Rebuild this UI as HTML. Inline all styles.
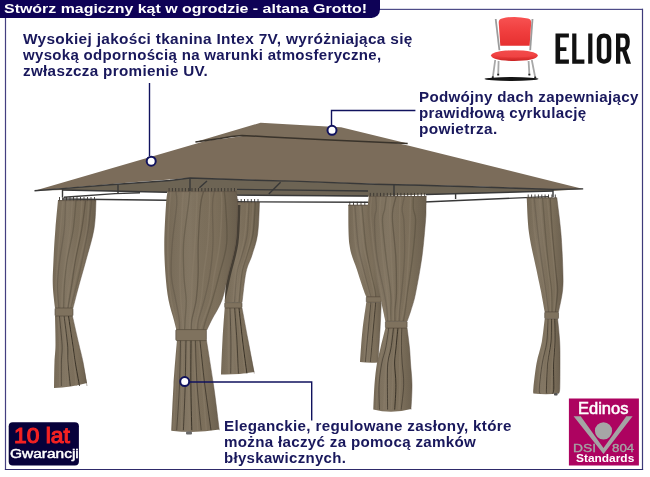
<!DOCTYPE html>
<html><head><meta charset="utf-8">
<style>
html,body{margin:0;padding:0;background:#fff}
body{width:650px;height:477px;position:relative;overflow:hidden;font-family:"Liberation Sans",sans-serif}
.t{position:absolute;font-weight:bold;color:#19185c;font-size:14.5px;line-height:16px;white-space:nowrap}
.t span{display:inline-block;transform-origin:0 0;letter-spacing:0.3px;will-change:transform}
#title{position:absolute;left:0;top:0;height:17.5px;width:379.5px;background:#0e0256;border-bottom-right-radius:8.5px;color:#fff;font-weight:bold;font-size:13.6px;line-height:17px;white-space:nowrap}
#title span{display:inline-block;transform-origin:0 0;margin-left:4.2px;will-change:transform}
svg{position:absolute;left:0;top:0}
</style></head><body>
<svg width="650" height="477" viewBox="0 0 650 477">
<defs><linearGradient id="cg" x1="0" y1="0" x2="0" y2="1"><stop offset="0" stop-color="#7b6e5a"/><stop offset="1" stop-color="#7d705c"/></linearGradient><linearGradient id="cshade" x1="0" y1="0" x2="1" y2="0"><stop offset="0" stop-color="#000" stop-opacity="0.06"/><stop offset="0.35" stop-color="#fff" stop-opacity="0.05"/><stop offset="0.7" stop-color="#000" stop-opacity="0"/><stop offset="1" stop-color="#000" stop-opacity="0.14"/></linearGradient></defs>
<!-- frame -->
<rect x="379" y="8.8" width="264" height="1.2" fill="#4e4c88"/>
<rect x="641.9" y="8.8" width="1.2" height="461.2" fill="#3e3a7a"/>
<rect x="4.9" y="16" width="1.2" height="454" fill="#443f80"/>
<rect x="4.9" y="469" width="638.2" height="1" fill="#2e2a6a"/>

<!-- GAZEBO -->
<g id="gazebo">
<!-- underside band -->
<path d="M34.5 190.8 L62 188.6 L110 184.7 L170 180.5 L190 178 L255 180.2 L300 181.4 L375 184.2 L420 185.3 L480 187 L540 189 L583.2 188.9 L553 191 L490 193 L426 194.5 L368 196.4 L300 195.8 L237 195.6 L190 191 L167 192.3 L110 191 L62 190 Z" fill="#6d6454"/>
<!-- roof face lower tier -->
<path d="M34.5 190.8 L195 144 L207 140.6 L221 138.9 L243 136 L260 131 L340 131 L408 145.5 L583.2 188.9 L553 189.5 L480 186.5 L394 184.5 L270 180.5 L190 178 L130 182.6 Z" fill="#7b6c5a"/>
<!-- upper tier -->
<path d="M195.4 142 L260.6 122.7 L300 124.9 L341 127.3 L407.7 143.5 L330 140 L270 137 L242 135.4 L220 138.5 Z" fill="#7c6e5c"/>
<path d="M195.4 142 L220 138.5 Q232 136 242 135.4 L270 137 L330 140 L407.7 143.5" fill="none" stroke="#39332b" stroke-width="1.5"/>

<!-- bars -->
<g stroke="#383838" stroke-width="1.4" fill="none">
<path d="M34.5 190.8 L62 188.6 L110 184.7 L170 180.5 L190 178 L255 180.2 L300 181.4 L375 184.2 L420 185.3 L480 187 L540 189 L553 189.4 L583.2 188.9"/>
<path d="M62 190 L110 191 L167 192.3"/>
<path d="M64 197.3 L115 193.6 L140 192.8"/>
<path d="M62 199 L167 200.2"/>
<path d="M237 189.4 L368 191"/>
<path d="M237 195.1 L368 196"/>
<path d="M237 201.8 L368 202.3"/>
<path d="M426 194.5 L553 191"/>
<path d="M424 202 L549 196.6"/>
<path d="M62.5 188.6 V197.5 M118 184.7 V194 M190 178 V191 M394 184.6 V196 M553 189.5 V197 M455.6 194 V199"/>
<path d="M199.4 187.8 L207 181 M268.8 194 L280.6 182.2"/>
</g>

<!-- curtains -->
<g id="curtains">
<path d="M58.0 200.0 C57.6 204.8 56.1 219.0 55.4 229.0 C54.6 239.0 53.9 250.7 53.5 260.0 C53.1 269.3 52.5 277.0 52.8 285.0 C53.0 293.0 54.6 304.2 55.0 308.0 L73.0 308.0 C74.0 304.2 76.8 293.0 79.0 285.0 C81.2 277.0 83.5 269.3 86.0 260.0 C88.5 250.7 92.3 239.0 94.0 229.0 C95.7 219.0 95.7 204.8 96.0 200.0Z" fill="url(#cg)"/>
<path d="M58.0 200.0 C57.6 204.8 56.1 219.0 55.4 229.0 C54.6 239.0 53.9 250.7 53.5 260.0 C53.1 269.3 52.5 277.0 52.8 285.0 C53.0 293.0 54.6 304.2 55.0 308.0 L73.0 308.0 C74.0 304.2 76.8 293.0 79.0 285.0 C81.2 277.0 83.5 269.3 86.0 260.0 C88.5 250.7 92.3 239.0 94.0 229.0 C95.7 219.0 95.7 204.8 96.0 200.0Z" fill="url(#cshade)"/>
<path d="M65.6 200.0 C65.4 204.8 65.2 219.0 64.3 229.0 C63.3 239.0 60.9 250.7 59.8 260.0 C58.6 269.3 57.5 277.0 57.3 285.0 C57.2 293.0 58.6 304.2 58.9 308.0" fill="none" stroke="#2e281f" stroke-opacity="0.18" stroke-width="1.3"/>
<path d="M62.9 200.0 C62.5 204.8 61.3 219.0 60.4 229.0 C59.5 239.0 58.4 250.7 57.7 260.0 C57.0 269.3 56.3 277.0 56.2 285.0 C56.1 293.0 57.2 304.2 57.3 308.0" fill="none" stroke="#8c7f6a" stroke-opacity="0.45" stroke-width="1.6"/>
<path d="M76.1 200.0 C75.6 204.8 74.7 219.0 73.3 229.0 C71.8 239.0 68.7 250.7 67.2 260.0 C65.7 269.3 65.0 277.0 64.4 285.0 C63.9 293.0 63.8 304.2 63.6 308.0" fill="none" stroke="#2e281f" stroke-opacity="0.24" stroke-width="1.3"/>
<path d="M72.4 200.0 C72.0 204.8 71.2 219.0 70.1 229.0 C69.0 239.0 67.1 250.7 65.8 260.0 C64.6 269.3 63.4 277.0 62.8 285.0 C62.1 293.0 62.0 304.2 61.8 308.0" fill="none" stroke="#8c7f6a" stroke-opacity="0.45" stroke-width="1.6"/>
<path d="M85.6 200.0 C85.0 204.8 83.5 219.0 81.8 229.0 C80.1 239.0 77.2 250.7 75.5 260.0 C73.8 269.3 73.0 277.0 71.7 285.0 C70.4 293.0 68.5 304.2 67.9 308.0" fill="none" stroke="#2e281f" stroke-opacity="0.30" stroke-width="1.3"/>
<path d="M81.9 200.0 C81.6 204.8 81.0 219.0 79.7 229.0 C78.4 239.0 75.7 250.7 74.0 260.0 C72.2 269.3 70.6 277.0 69.3 285.0 C68.0 293.0 66.8 304.2 66.3 308.0" fill="none" stroke="#8c7f6a" stroke-opacity="0.45" stroke-width="1.6"/>
<path d="M91.6 200.0 C91.0 204.8 89.8 219.0 88.2 229.0 C86.6 239.0 84.1 250.7 82.2 260.0 C80.3 269.3 78.5 277.0 76.6 285.0 C74.7 293.0 71.6 304.2 70.6 308.0" fill="none" stroke="#2e281f" stroke-opacity="0.18" stroke-width="1.3"/>
<path d="M88.8 200.0 C88.4 204.8 88.2 219.0 86.7 229.0 C85.2 239.0 81.9 250.7 79.8 260.0 C77.7 269.3 75.7 277.0 74.0 285.0 C72.3 293.0 70.3 304.2 69.6 308.0" fill="none" stroke="#8c7f6a" stroke-opacity="0.45" stroke-width="1.6"/>
<path d="M59.5 197.0v3.5 M63.0 197.0v3.5 M66.5 197.0v3.5 M70.0 197.0v3.5 M73.5 197.0v3.5 M77.0 197.0v3.5 M80.5 197.0v3.5 M84.0 197.0v3.5 M87.5 197.0v3.5 M91.0 197.0v3.5 M94.5 197.0v3.5" stroke="#3a3631" stroke-width="0.9" fill="none"/>
<path d="M58.0 200.6H96.0" stroke="#5d5244" stroke-width="1" stroke-opacity="0.6"/>
<path d="M96.0 200.0 C95.7 204.8 95.7 219.0 94.0 229.0 C92.3 239.0 88.5 250.7 86.0 260.0 C83.5 269.3 81.2 277.0 79.0 285.0 C76.8 293.0 74.0 304.2 73.0 308.0" fill="none" stroke="#5a4f41" stroke-opacity="0.6" stroke-width="0.8"/>
<path d="M55.0 316.0 C55.1 320.8 55.6 337.3 55.5 345.0 C55.4 352.7 54.8 354.8 54.5 362.0 C54.2 369.2 54.1 383.7 54.0 388.0 Q70.5 387.5 87.0 383.0 C86.3 379.5 84.3 368.3 83.0 362.0 C81.7 355.7 80.8 352.7 79.0 345.0 C77.2 337.3 73.5 320.8 72.4 316.0Z" fill="url(#cg)"/>
<path d="M55.0 316.0 C55.1 320.8 55.6 337.3 55.5 345.0 C55.4 352.7 54.8 354.8 54.5 362.0 C54.2 369.2 54.1 383.7 54.0 388.0 Q70.5 387.5 87.0 383.0 C86.3 379.5 84.3 368.3 83.0 362.0 C81.7 355.7 80.8 352.7 79.0 345.0 C77.2 337.3 73.5 320.8 72.4 316.0Z" fill="url(#cshade)"/>
<path d="M59.4 316.0 C59.8 320.8 61.7 337.3 62.1 345.0 C62.4 352.7 61.5 355.2 61.4 362.0 C61.3 368.8 61.3 382.0 61.3 386.0" fill="none" stroke="#2e281f" stroke-opacity="0.51" stroke-width="1.0"/>
<path d="M58.1 316.0 C58.4 320.8 59.5 337.3 59.7 345.0 C60.0 352.7 59.6 355.2 59.6 362.0 C59.7 368.8 59.9 382.0 59.9 386.0" fill="none" stroke="#8c7f6a" stroke-opacity="0.45" stroke-width="1.6"/>
<path d="M64.1 316.0 C64.7 320.8 66.9 337.3 67.6 345.0 C68.2 352.7 67.5 355.2 67.9 362.0 C68.4 368.8 69.9 382.0 70.3 386.0" fill="none" stroke="#2e281f" stroke-opacity="0.68" stroke-width="1.0"/>
<path d="M62.5 316.0 C63.0 320.8 64.9 337.3 65.6 345.0 C66.3 352.7 66.3 355.2 66.8 362.0 C67.2 368.8 68.0 382.0 68.2 386.0" fill="none" stroke="#8c7f6a" stroke-opacity="0.45" stroke-width="1.6"/>
<path d="M68.5 316.0 C69.2 320.8 71.6 337.3 72.8 345.0 C73.9 352.7 74.1 355.2 75.2 362.0 C76.3 368.8 78.8 382.0 79.5 386.0" fill="none" stroke="#2e281f" stroke-opacity="0.85" stroke-width="1.0"/>
<path d="M66.8 316.0 C67.6 320.8 70.3 337.3 71.5 345.0 C72.7 352.7 73.1 355.2 73.9 362.0 C74.7 368.8 76.0 382.0 76.4 386.0" fill="none" stroke="#8c7f6a" stroke-opacity="0.45" stroke-width="1.6"/>
<path d="M72.4 316.0 C73.5 320.8 77.2 337.3 79.0 345.0 C80.8 352.7 81.7 355.2 83.0 362.0 C84.3 368.8 86.3 382.0 87.0 386.0" fill="none" stroke="#5a4f41" stroke-opacity="0.6" stroke-width="0.8"/>
<rect x="55" y="308" width="18.0" height="8.0" rx="1" fill="#7f725e" stroke="#4f4538" stroke-width="0.6"/>
<path d="M236.3 202.0 C235.8 207.3 234.1 225.2 233.0 234.0 C231.9 242.8 231.0 248.7 230.0 255.0 C229.0 261.3 227.9 264.1 227.0 272.0 C226.1 279.9 225.1 297.5 224.7 302.6 L242.0 302.6 C242.7 297.5 244.3 279.9 246.0 272.0 C247.7 264.1 250.1 261.3 252.0 255.0 C253.9 248.7 256.4 242.8 257.6 234.0 C258.9 225.2 259.2 207.3 259.5 202.0Z" fill="url(#cg)"/>
<path d="M236.3 202.0 C235.8 207.3 234.1 225.2 233.0 234.0 C231.9 242.8 231.0 248.7 230.0 255.0 C229.0 261.3 227.9 264.1 227.0 272.0 C226.1 279.9 225.1 297.5 224.7 302.6 L242.0 302.6 C242.7 297.5 244.3 279.9 246.0 272.0 C247.7 264.1 250.1 261.3 252.0 255.0 C253.9 248.7 256.4 242.8 257.6 234.0 C258.9 225.2 259.2 207.3 259.5 202.0Z" fill="url(#cshade)"/>
<path d="M249.1 202.0 C248.8 207.3 248.4 225.2 247.3 234.0 C246.1 242.8 243.7 248.7 241.9 255.0 C240.2 261.3 238.2 264.1 236.9 272.0 C235.7 279.9 234.9 297.5 234.5 302.6" fill="none" stroke="#2e281f" stroke-opacity="0.18" stroke-width="1.3"/>
<path d="M247.4 202.0 C247.0 207.3 246.0 225.2 244.8 234.0 C243.7 242.8 242.0 248.7 240.6 255.0 C239.1 261.3 237.4 264.1 236.1 272.0 C234.9 279.9 233.5 297.5 233.0 302.6" fill="none" stroke="#8c7f6a" stroke-opacity="0.45" stroke-width="1.6"/>
<path d="M255.4 202.0 C255.0 207.3 254.4 225.2 253.0 234.0 C251.6 242.8 248.8 248.7 247.0 255.0 C245.2 261.3 243.4 264.1 242.1 272.0 C240.8 279.9 239.6 297.5 239.1 302.6" fill="none" stroke="#2e281f" stroke-opacity="0.24" stroke-width="1.3"/>
<path d="M253.2 202.0 C252.9 207.3 252.2 225.2 251.0 234.0 C249.8 242.8 247.7 248.7 246.1 255.0 C244.4 261.3 242.3 264.1 240.9 272.0 C239.4 279.9 237.9 297.5 237.3 302.6" fill="none" stroke="#8c7f6a" stroke-opacity="0.45" stroke-width="1.6"/>
<path d="M237.8 199.0v3.5 M241.2 199.0v3.5 M244.5 199.0v3.5 M247.9 199.0v3.5 M251.3 199.0v3.5 M254.6 199.0v3.5 M258.0 199.0v3.5" stroke="#3a3631" stroke-width="0.9" fill="none"/>
<path d="M236.3 202.6H259.5" stroke="#5d5244" stroke-width="1" stroke-opacity="0.6"/>
<path d="M259.5 202.0 C259.2 207.3 258.9 225.2 257.6 234.0 C256.4 242.8 253.9 248.7 252.0 255.0 C250.1 261.3 247.7 264.1 246.0 272.0 C244.3 279.9 242.7 297.5 242.0 302.6" fill="none" stroke="#5a4f41" stroke-opacity="0.6" stroke-width="0.8"/>
<path d="M224.7 308.0 C224.3 313.3 223.1 328.9 222.5 340.0 C221.9 351.1 221.2 368.8 221.0 374.5 Q237.7 374.9 254.3 372.0 C253.2 366.7 250.1 350.7 248.0 340.0 C245.9 329.3 243.0 313.3 242.0 308.0Z" fill="url(#cg)"/>
<path d="M224.7 308.0 C224.3 313.3 223.1 328.9 222.5 340.0 C221.9 351.1 221.2 368.8 221.0 374.5 Q237.7 374.9 254.3 372.0 C253.2 366.7 250.1 350.7 248.0 340.0 C245.9 329.3 243.0 313.3 242.0 308.0Z" fill="url(#cshade)"/>
<path d="M229.9 308.0 C230.1 313.3 230.8 329.1 230.9 340.0 C231.0 350.9 230.8 367.9 230.7 373.5" fill="none" stroke="#2e281f" stroke-opacity="0.51" stroke-width="1.0"/>
<path d="M228.7 308.0 C228.6 313.3 228.4 329.1 228.4 340.0 C228.4 350.9 228.6 367.9 228.7 373.5" fill="none" stroke="#8c7f6a" stroke-opacity="0.45" stroke-width="1.6"/>
<path d="M234.7 308.0 C235.0 313.3 236.2 329.1 236.9 340.0 C237.5 350.9 238.1 367.9 238.4 373.5" fill="none" stroke="#2e281f" stroke-opacity="0.68" stroke-width="1.0"/>
<path d="M233.0 308.0 C233.3 313.3 234.1 329.1 234.7 340.0 C235.4 350.9 236.6 367.9 237.0 373.5" fill="none" stroke="#8c7f6a" stroke-opacity="0.45" stroke-width="1.6"/>
<path d="M239.0 308.0 C239.6 313.3 241.2 329.1 242.5 340.0 C243.8 350.9 246.1 367.9 246.9 373.5" fill="none" stroke="#2e281f" stroke-opacity="0.85" stroke-width="1.0"/>
<path d="M237.3 308.0 C238.0 313.3 239.8 329.1 241.1 340.0 C242.4 350.9 244.6 367.9 245.3 373.5" fill="none" stroke="#8c7f6a" stroke-opacity="0.45" stroke-width="1.6"/>
<path d="M242.0 308.0 C243.0 313.3 245.9 329.1 248.0 340.0 C250.1 350.9 253.2 367.9 254.3 373.5" fill="none" stroke="#5a4f41" stroke-opacity="0.6" stroke-width="0.8"/>
<clipPath id="cclip"><path d="M236.3 202.0 C235.8 207.3 234.1 225.2 233.0 234.0 C231.9 242.8 231.0 248.7 230.0 255.0 C229.0 261.3 227.9 264.1 227.0 272.0 C226.1 279.9 225.1 297.5 224.7 302.6 L242.0 302.6 C242.7 297.5 244.3 279.9 246.0 272.0 C247.7 264.1 250.1 261.3 252.0 255.0 C253.9 248.7 256.4 242.8 257.6 234.0 C258.9 225.2 259.2 207.3 259.5 202.0Z"/></clipPath>
<path clip-path="url(#cclip)" d="M239.1 205.0 C238.8 211.3 238.7 231.3 237.1 243.0 C235.5 254.7 231.8 265.5 229.6 275.0 C227.3 284.5 226.3 292.5 223.6 300.0 C220.9 307.5 215.7 315.0 213.2 320.0 C210.7 325.0 209.2 328.3 208.4 330.0" fill="none" stroke="#3b352d" stroke-width="2.6" stroke-opacity="0.85"/>
<rect x="224.7" y="302.6" width="17.3" height="5.4" rx="1" fill="#7f725e" stroke="#4f4538" stroke-width="0.6"/>
<path d="M167.6 191.0 C167.3 193.3 166.6 196.3 166.0 205.0 C165.4 213.7 164.4 231.3 164.3 243.0 C164.2 254.7 164.8 265.5 165.5 275.0 C166.2 284.5 167.1 292.5 168.5 300.0 C169.9 307.5 172.6 315.0 173.9 320.0 C175.2 325.0 176.0 328.3 176.4 330.0 L206.8 330.0 C207.6 328.3 209.1 325.0 211.6 320.0 C214.1 315.0 219.3 307.5 222.0 300.0 C224.7 292.5 225.8 284.5 228.0 275.0 C230.2 265.5 233.9 254.7 235.5 243.0 C237.1 231.3 237.4 213.7 237.5 205.0 C237.6 196.3 236.2 193.3 236.0 191.0Z" fill="url(#cg)"/>
<path d="M167.6 191.0 C167.3 193.3 166.6 196.3 166.0 205.0 C165.4 213.7 164.4 231.3 164.3 243.0 C164.2 254.7 164.8 265.5 165.5 275.0 C166.2 284.5 167.1 292.5 168.5 300.0 C169.9 307.5 172.6 315.0 173.9 320.0 C175.2 325.0 176.0 328.3 176.4 330.0 L206.8 330.0 C207.6 328.3 209.1 325.0 211.6 320.0 C214.1 315.0 219.3 307.5 222.0 300.0 C224.7 292.5 225.8 284.5 228.0 275.0 C230.2 265.5 233.9 254.7 235.5 243.0 C237.1 231.3 237.4 213.7 237.5 205.0 C237.6 196.3 236.2 193.3 236.0 191.0Z" fill="url(#cshade)"/>
<path d="M175.8 191.0 C176.0 193.3 177.3 196.3 176.7 205.0 C176.1 213.7 173.2 231.3 172.3 243.0 C171.4 254.7 170.7 265.5 171.3 275.0 C171.8 284.5 174.4 292.5 175.7 300.0 C177.1 307.5 178.7 315.0 179.3 320.0 C179.9 325.0 179.4 328.3 179.4 330.0" fill="none" stroke="#2e281f" stroke-opacity="0.18" stroke-width="1.3"/>
<path d="M171.0 191.0 C170.8 193.3 170.1 196.3 169.6 205.0 C169.0 213.7 168.0 231.3 167.9 243.0 C167.7 254.7 168.1 265.5 168.6 275.0 C169.2 284.5 170.0 292.5 171.2 300.0 C172.4 307.5 174.7 315.0 175.8 320.0 C176.9 325.0 177.6 328.3 177.9 330.0" fill="none" stroke="#8c7f6a" stroke-opacity="0.45" stroke-width="1.6"/>
<path d="M189.8 191.0 C189.6 193.3 189.4 196.3 188.4 205.0 C187.3 213.7 184.4 231.3 183.6 243.0 C182.9 254.7 183.5 265.5 183.9 275.0 C184.3 284.5 185.9 292.5 186.2 300.0 C186.4 307.5 185.4 315.0 185.1 320.0 C184.9 325.0 184.7 328.3 184.6 330.0" fill="none" stroke="#2e281f" stroke-opacity="0.24" stroke-width="1.3"/>
<path d="M183.3 191.0 C183.2 193.3 182.9 196.3 182.4 205.0 C182.0 213.7 181.1 231.3 180.7 243.0 C180.2 254.7 179.9 265.5 179.9 275.0 C179.9 284.5 180.4 292.5 180.8 300.0 C181.3 307.5 182.1 315.0 182.6 320.0 C183.0 325.0 183.3 328.3 183.4 330.0" fill="none" stroke="#8c7f6a" stroke-opacity="0.45" stroke-width="1.6"/>
<path d="M203.7 191.0 C203.2 193.3 201.5 196.3 200.6 205.0 C199.7 213.7 198.7 231.3 198.2 243.0 C197.8 254.7 198.5 265.5 198.1 275.0 C197.8 284.5 197.2 292.5 196.2 300.0 C195.1 307.5 192.6 315.0 191.8 320.0 C190.9 325.0 191.4 328.3 191.3 330.0" fill="none" stroke="#2e281f" stroke-opacity="0.30" stroke-width="1.3"/>
<path d="M197.0 191.0 C197.0 193.3 197.1 196.3 196.7 205.0 C196.4 213.7 195.6 231.3 194.9 243.0 C194.2 254.7 192.9 265.5 192.4 275.0 C191.8 284.5 191.9 292.5 191.5 300.0 C191.1 307.5 190.4 315.0 190.1 320.0 C189.8 325.0 189.6 328.3 189.5 330.0" fill="none" stroke="#8c7f6a" stroke-opacity="0.45" stroke-width="1.6"/>
<path d="M214.4 191.0 C214.1 193.3 212.7 196.3 212.5 205.0 C212.2 213.7 213.4 231.3 213.0 243.0 C212.5 254.7 211.3 265.5 209.8 275.0 C208.4 284.5 206.2 292.5 204.3 300.0 C202.4 307.5 199.7 315.0 198.5 320.0 C197.4 325.0 197.8 328.3 197.6 330.0" fill="none" stroke="#2e281f" stroke-opacity="0.18" stroke-width="1.3"/>
<path d="M209.3 191.0 C209.4 193.3 209.9 196.3 209.6 205.0 C209.3 213.7 208.7 231.3 207.7 243.0 C206.7 254.7 204.7 265.5 203.6 275.0 C202.5 284.5 202.3 292.5 201.1 300.0 C200.0 307.5 197.9 315.0 196.9 320.0 C195.9 325.0 195.3 328.3 194.9 330.0" fill="none" stroke="#8c7f6a" stroke-opacity="0.45" stroke-width="1.6"/>
<path d="M224.2 191.0 C224.4 193.3 225.2 196.3 225.6 205.0 C226.0 213.7 227.8 231.3 226.7 243.0 C225.7 254.7 221.6 265.5 219.2 275.0 C216.8 284.5 214.6 292.5 212.4 300.0 C210.2 307.5 207.4 315.0 205.9 320.0 C204.3 325.0 203.6 328.3 203.2 330.0" fill="none" stroke="#2e281f" stroke-opacity="0.24" stroke-width="1.3"/>
<path d="M221.0 191.0 C221.1 193.3 222.0 196.3 221.8 205.0 C221.6 213.7 221.1 231.3 219.8 243.0 C218.6 254.7 215.9 265.5 214.2 275.0 C212.6 284.5 212.1 292.5 210.2 300.0 C208.4 307.5 205.0 315.0 203.3 320.0 C201.6 325.0 200.6 328.3 200.1 330.0" fill="none" stroke="#8c7f6a" stroke-opacity="0.45" stroke-width="1.6"/>
<path d="M169.1 188.0v3.5 M172.4 188.0v3.5 M175.6 188.0v3.5 M178.9 188.0v3.5 M182.2 188.0v3.5 M185.4 188.0v3.5 M188.7 188.0v3.5 M192.0 188.0v3.5 M195.3 188.0v3.5 M198.5 188.0v3.5 M201.8 188.0v3.5 M205.1 188.0v3.5 M208.3 188.0v3.5 M211.6 188.0v3.5 M214.9 188.0v3.5 M218.2 188.0v3.5 M221.4 188.0v3.5 M224.7 188.0v3.5 M228.0 188.0v3.5 M231.2 188.0v3.5 M234.5 188.0v3.5" stroke="#3a3631" stroke-width="0.9" fill="none"/>
<path d="M167.6 191.6H236.0" stroke="#5d5244" stroke-width="1" stroke-opacity="0.6"/>
<path d="M236.0 191.0 C236.2 193.3 237.6 196.3 237.5 205.0 C237.4 213.7 237.1 231.3 235.5 243.0 C233.9 254.7 230.2 265.5 228.0 275.0 C225.8 284.5 224.7 292.5 222.0 300.0 C219.3 307.5 214.1 315.0 211.6 320.0 C209.1 325.0 207.6 328.3 206.8 330.0" fill="none" stroke="#5a4f41" stroke-opacity="0.6" stroke-width="0.8"/>
<path d="M177.0 340.0 C176.4 347.5 174.4 369.9 173.5 385.0 C172.6 400.1 171.7 423.2 171.3 430.8 Q195.3 433.8 219.3 429.6 C218.3 422.2 215.7 399.9 213.5 385.0 C211.3 370.1 207.6 347.5 206.4 340.0Z" fill="url(#cg)"/>
<path d="M177.0 340.0 C176.4 347.5 174.4 369.9 173.5 385.0 C172.6 400.1 171.7 423.2 171.3 430.8 Q195.3 433.8 219.3 429.6 C218.3 422.2 215.7 399.9 213.5 385.0 C211.3 370.1 207.6 347.5 206.4 340.0Z" fill="url(#cshade)"/>
<path d="M180.5 340.0 C180.4 347.5 180.1 370.0 179.5 385.0 C178.9 400.0 177.2 422.7 176.7 430.2" fill="none" stroke="#2e281f" stroke-opacity="0.51" stroke-width="1.0"/>
<path d="M178.5 340.0 C178.0 347.5 176.3 370.0 175.5 385.0 C174.7 400.0 174.0 422.7 173.7 430.2" fill="none" stroke="#8c7f6a" stroke-opacity="0.45" stroke-width="1.6"/>
<path d="M186.0 340.0 C185.8 347.5 185.6 370.0 185.2 385.0 C184.8 400.0 183.7 422.7 183.4 430.2" fill="none" stroke="#2e281f" stroke-opacity="0.68" stroke-width="1.0"/>
<path d="M183.2 340.0 C183.0 347.5 182.2 370.0 181.9 385.0 C181.6 400.0 181.5 422.7 181.4 430.2" fill="none" stroke="#8c7f6a" stroke-opacity="0.45" stroke-width="1.6"/>
<path d="M191.0 340.0 C191.0 347.5 190.7 370.0 190.9 385.0 C191.0 400.0 191.6 422.7 191.8 430.2" fill="none" stroke="#2e281f" stroke-opacity="0.85" stroke-width="1.0"/>
<path d="M188.2 340.0 C188.3 347.5 188.5 370.0 188.7 385.0 C188.9 400.0 189.4 422.7 189.5 430.2" fill="none" stroke="#8c7f6a" stroke-opacity="0.45" stroke-width="1.6"/>
<path d="M195.4 340.0 C195.6 347.5 196.1 370.0 197.1 385.0 C198.1 400.0 200.5 422.7 201.2 430.2" fill="none" stroke="#2e281f" stroke-opacity="0.51" stroke-width="1.0"/>
<path d="M193.2 340.0 C193.6 347.5 194.7 370.0 195.5 385.0 C196.3 400.0 197.3 422.7 197.7 430.2" fill="none" stroke="#8c7f6a" stroke-opacity="0.45" stroke-width="1.6"/>
<path d="M199.9 340.0 C200.7 347.5 203.0 370.0 204.8 385.0 C206.7 400.0 210.0 422.7 211.0 430.2" fill="none" stroke="#2e281f" stroke-opacity="0.68" stroke-width="1.0"/>
<path d="M198.5 340.0 C199.2 347.5 201.4 370.0 202.7 385.0 C204.0 400.0 205.7 422.7 206.3 430.2" fill="none" stroke="#8c7f6a" stroke-opacity="0.45" stroke-width="1.6"/>
<path d="M206.4 340.0 C207.6 347.5 211.3 370.0 213.5 385.0 C215.7 400.0 218.3 422.7 219.3 430.2" fill="none" stroke="#5a4f41" stroke-opacity="0.6" stroke-width="0.8"/>
<rect x="175.8" y="329.6" width="30.6" height="11.0" rx="1" fill="#7f725e" stroke="#4f4538" stroke-width="0.6"/>
<path d="M348.3 204.8 C348.5 211.5 348.1 234.3 349.5 245.0 C350.9 255.7 354.3 261.5 356.7 269.0 C359.1 276.5 362.0 285.3 363.6 290.0 C365.2 294.7 365.9 295.8 366.3 297.0 L381.3 297.0 C381.5 295.8 382.8 294.7 382.6 290.0 C382.4 285.3 381.1 276.5 380.0 269.0 C378.9 261.5 377.7 255.7 376.0 245.0 C374.3 234.3 371.0 211.5 370.0 204.8Z" fill="url(#cg)"/>
<path d="M348.3 204.8 C348.5 211.5 348.1 234.3 349.5 245.0 C350.9 255.7 354.3 261.5 356.7 269.0 C359.1 276.5 362.0 285.3 363.6 290.0 C365.2 294.7 365.9 295.8 366.3 297.0 L381.3 297.0 C381.5 295.8 382.8 294.7 382.6 290.0 C382.4 285.3 381.1 276.5 380.0 269.0 C378.9 261.5 377.7 255.7 376.0 245.0 C374.3 234.3 371.0 211.5 370.0 204.8Z" fill="url(#cshade)"/>
<path d="M354.8 204.8 C355.4 211.5 356.8 234.3 358.2 245.0 C359.7 255.7 361.8 261.5 363.5 269.0 C365.3 276.5 367.5 285.3 368.8 290.0 C370.0 294.7 370.6 295.8 371.0 297.0" fill="none" stroke="#2e281f" stroke-opacity="0.18" stroke-width="1.3"/>
<path d="M353.3 204.8 C353.7 211.5 354.1 234.3 355.6 245.0 C357.1 255.7 360.0 261.5 362.1 269.0 C364.1 276.5 366.7 285.3 368.0 290.0 C369.3 294.7 369.5 295.8 369.8 297.0" fill="none" stroke="#8c7f6a" stroke-opacity="0.45" stroke-width="1.6"/>
<path d="M361.9 204.8 C362.5 211.5 364.4 234.3 365.7 245.0 C367.1 255.7 368.5 261.5 370.0 269.0 C371.5 276.5 373.9 285.3 374.9 290.0 C375.9 294.7 375.6 295.8 375.7 297.0" fill="none" stroke="#2e281f" stroke-opacity="0.24" stroke-width="1.3"/>
<path d="M359.8 204.8 C360.4 211.5 362.0 234.3 363.5 245.0 C365.1 255.7 367.4 261.5 369.0 269.0 C370.7 276.5 372.8 285.3 373.7 290.0 C374.5 294.7 374.2 295.8 374.2 297.0" fill="none" stroke="#8c7f6a" stroke-opacity="0.45" stroke-width="1.6"/>
<path d="M349.8 201.8v3.5 M353.5 201.8v3.5 M357.3 201.8v3.5 M361.0 201.8v3.5 M364.8 201.8v3.5 M368.5 201.8v3.5" stroke="#3a3631" stroke-width="0.9" fill="none"/>
<path d="M348.3 205.4H370.0" stroke="#5d5244" stroke-width="1" stroke-opacity="0.6"/>
<path d="M370.0 204.8 C371.0 211.5 374.3 234.3 376.0 245.0 C377.7 255.7 378.9 261.5 380.0 269.0 C381.1 276.5 382.4 285.3 382.6 290.0 C382.8 294.7 381.5 295.8 381.3 297.0" fill="none" stroke="#5a4f41" stroke-opacity="0.6" stroke-width="0.8"/>
<path d="M366.3 302.3 C365.7 306.9 363.6 320.1 362.5 330.0 C361.4 339.9 360.4 356.7 360.0 362.0 Q369.0 363.2 378.0 362.5 C378.3 357.1 379.4 340.0 380.0 330.0 C380.6 320.0 381.1 306.9 381.3 302.3Z" fill="url(#cg)"/>
<path d="M366.3 302.3 C365.7 306.9 363.6 320.1 362.5 330.0 C361.4 339.9 360.4 356.7 360.0 362.0 Q369.0 363.2 378.0 362.5 C378.3 357.1 379.4 340.0 380.0 330.0 C380.6 320.0 381.1 306.9 381.3 302.3Z" fill="url(#cshade)"/>
<path d="M370.8 302.3 C370.4 306.9 369.2 320.1 368.3 330.0 C367.3 339.9 365.8 356.7 365.3 362.0" fill="none" stroke="#2e281f" stroke-opacity="0.51" stroke-width="1.0"/>
<path d="M369.8 302.3 C369.2 306.9 367.5 320.1 366.5 330.0 C365.6 339.9 364.5 356.7 364.1 362.0" fill="none" stroke="#8c7f6a" stroke-opacity="0.45" stroke-width="1.6"/>
<path d="M375.7 302.3 C375.3 306.9 374.1 320.1 373.2 330.0 C372.3 339.9 370.8 356.7 370.3 362.0" fill="none" stroke="#2e281f" stroke-opacity="0.68" stroke-width="1.0"/>
<path d="M374.2 302.3 C373.8 306.9 372.6 320.1 371.8 330.0 C371.0 339.9 369.9 356.7 369.5 362.0" fill="none" stroke="#8c7f6a" stroke-opacity="0.45" stroke-width="1.6"/>
<path d="M381.3 302.3 C381.1 306.9 380.6 320.1 380.0 330.0 C379.4 339.9 378.3 356.7 378.0 362.0" fill="none" stroke="#5a4f41" stroke-opacity="0.6" stroke-width="0.8"/>
<rect x="366.3" y="296.8" width="15.0" height="5.5" rx="1" fill="#7f725e" stroke="#4f4538" stroke-width="0.6"/>
<path d="M368.8 195.9 C368.6 198.1 367.7 204.8 367.6 209.0 C367.5 213.2 367.2 213.0 368.0 221.0 C368.8 229.0 370.5 244.9 372.4 257.0 C374.3 269.1 377.8 284.8 379.6 293.6 C381.4 302.4 382.0 305.4 383.0 310.0 C384.0 314.6 385.0 319.4 385.4 321.3 L407.1 321.3 C407.8 319.4 409.6 314.6 411.0 310.0 C412.4 305.4 413.7 302.4 415.5 293.6 C417.3 284.8 420.2 269.1 421.9 257.0 C423.6 244.9 424.8 229.0 425.5 221.0 C426.2 213.0 425.9 213.2 426.0 209.0 C426.1 204.8 426.2 198.1 426.2 195.9Z" fill="url(#cg)"/>
<path d="M368.8 195.9 C368.6 198.1 367.7 204.8 367.6 209.0 C367.5 213.2 367.2 213.0 368.0 221.0 C368.8 229.0 370.5 244.9 372.4 257.0 C374.3 269.1 377.8 284.8 379.6 293.6 C381.4 302.4 382.0 305.4 383.0 310.0 C384.0 314.6 385.0 319.4 385.4 321.3 L407.1 321.3 C407.8 319.4 409.6 314.6 411.0 310.0 C412.4 305.4 413.7 302.4 415.5 293.6 C417.3 284.8 420.2 269.1 421.9 257.0 C423.6 244.9 424.8 229.0 425.5 221.0 C426.2 213.0 425.9 213.2 426.0 209.0 C426.1 204.8 426.2 198.1 426.2 195.9Z" fill="url(#cshade)"/>
<path d="M375.7 195.9 C375.8 198.1 376.6 204.8 376.3 209.0 C376.1 213.2 374.4 213.0 374.5 221.0 C374.6 229.0 375.3 244.9 377.0 257.0 C378.6 269.1 382.8 284.8 384.4 293.6 C386.1 302.4 386.5 305.4 387.0 310.0 C387.5 314.6 387.5 319.4 387.5 321.3" fill="none" stroke="#2e281f" stroke-opacity="0.18" stroke-width="1.3"/>
<path d="M371.7 195.9 C371.5 198.1 370.7 204.8 370.5 209.0 C370.4 213.2 370.1 213.0 370.9 221.0 C371.6 229.0 373.1 244.9 374.9 257.0 C376.6 269.1 379.8 284.8 381.4 293.6 C383.0 302.4 383.6 305.4 384.4 310.0 C385.2 314.6 386.1 319.4 386.5 321.3" fill="none" stroke="#8c7f6a" stroke-opacity="0.45" stroke-width="1.6"/>
<path d="M386.3 195.9 C386.1 198.1 385.3 204.8 384.7 209.0 C384.1 213.2 382.2 213.0 382.5 221.0 C382.7 229.0 384.6 244.9 386.0 257.0 C387.4 269.1 389.9 284.8 390.7 293.6 C391.5 302.4 390.8 305.4 390.8 310.0 C390.8 314.6 390.8 319.4 390.8 321.3" fill="none" stroke="#2e281f" stroke-opacity="0.24" stroke-width="1.3"/>
<path d="M380.9 195.9 C380.7 198.1 380.0 204.8 379.9 209.0 C379.7 213.2 379.6 213.0 380.1 221.0 C380.6 229.0 381.6 244.9 382.8 257.0 C384.0 269.1 386.1 284.8 387.1 293.6 C388.2 302.4 388.4 305.4 388.9 310.0 C389.3 314.6 389.8 319.4 390.0 321.3" fill="none" stroke="#8c7f6a" stroke-opacity="0.45" stroke-width="1.6"/>
<path d="M396.2 195.9 C395.7 198.1 393.6 204.8 393.0 209.0 C392.3 213.2 392.1 213.0 392.5 221.0 C393.0 229.0 395.1 244.9 395.8 257.0 C396.4 269.1 396.5 284.8 396.4 293.6 C396.2 302.4 395.1 305.4 394.9 310.0 C394.6 314.6 394.9 319.4 394.9 321.3" fill="none" stroke="#2e281f" stroke-opacity="0.30" stroke-width="1.3"/>
<path d="M390.6 195.9 C390.5 198.1 389.9 204.8 389.8 209.0 C389.7 213.2 389.6 213.0 389.9 221.0 C390.1 229.0 390.6 244.9 391.2 257.0 C391.8 269.1 392.8 284.8 393.2 293.6 C393.6 302.4 393.6 305.4 393.6 310.0 C393.7 314.6 393.6 319.4 393.6 321.3" fill="none" stroke="#8c7f6a" stroke-opacity="0.45" stroke-width="1.6"/>
<path d="M404.6 195.9 C404.2 198.1 402.2 204.8 402.1 209.0 C401.9 213.2 403.4 213.0 403.9 221.0 C404.3 229.0 404.9 244.9 404.5 257.0 C404.1 269.1 402.3 284.8 401.5 293.6 C400.6 302.4 400.0 305.4 399.6 310.0 C399.3 314.6 399.3 319.4 399.2 321.3" fill="none" stroke="#2e281f" stroke-opacity="0.18" stroke-width="1.3"/>
<path d="M400.4 195.9 C400.3 198.1 399.8 204.8 399.7 209.0 C399.6 213.2 399.6 213.0 399.6 221.0 C399.6 229.0 399.7 244.9 399.6 257.0 C399.6 269.1 399.5 284.8 399.3 293.6 C399.1 302.4 398.7 305.4 398.4 310.0 C398.1 314.6 397.5 319.4 397.3 321.3" fill="none" stroke="#8c7f6a" stroke-opacity="0.45" stroke-width="1.6"/>
<path d="M413.4 195.9 C413.4 198.1 413.0 204.8 413.4 209.0 C413.7 213.2 415.7 213.0 415.6 221.0 C415.4 229.0 413.9 244.9 412.5 257.0 C411.1 269.1 408.5 284.8 407.3 293.6 C406.1 302.4 406.0 305.4 405.3 310.0 C404.7 314.6 403.7 319.4 403.4 321.3" fill="none" stroke="#2e281f" stroke-opacity="0.24" stroke-width="1.3"/>
<path d="M410.7 195.9 C410.6 198.1 410.4 204.8 410.2 209.0 C410.1 213.2 410.3 213.0 410.0 221.0 C409.7 229.0 409.2 244.9 408.5 257.0 C407.8 269.1 406.7 284.8 405.8 293.6 C405.0 302.4 404.2 305.4 403.4 310.0 C402.7 314.6 401.6 319.4 401.2 321.3" fill="none" stroke="#8c7f6a" stroke-opacity="0.45" stroke-width="1.6"/>
<path d="M370.3 192.9v3.5 M373.7 192.9v3.5 M377.1 192.9v3.5 M380.5 192.9v3.5 M383.9 192.9v3.5 M387.3 192.9v3.5 M390.7 192.9v3.5 M394.1 192.9v3.5 M397.5 192.9v3.5 M400.9 192.9v3.5 M404.3 192.9v3.5 M407.7 192.9v3.5 M411.1 192.9v3.5 M414.5 192.9v3.5 M417.9 192.9v3.5 M421.3 192.9v3.5 M424.7 192.9v3.5" stroke="#3a3631" stroke-width="0.9" fill="none"/>
<path d="M368.8 196.5H426.2" stroke="#5d5244" stroke-width="1" stroke-opacity="0.6"/>
<path d="M426.2 195.9 C426.2 198.1 426.1 204.8 426.0 209.0 C425.9 213.2 426.2 213.0 425.5 221.0 C424.8 229.0 423.6 244.9 421.9 257.0 C420.2 269.1 417.3 284.8 415.5 293.6 C413.7 302.4 412.4 305.4 411.0 310.0 C409.6 314.6 407.8 319.4 407.1 321.3" fill="none" stroke="#5a4f41" stroke-opacity="0.6" stroke-width="0.8"/>
<path d="M385.4 328.1 C384.6 331.4 381.9 342.2 380.5 348.0 C379.1 353.8 378.0 356.9 377.0 363.0 C376.0 369.1 375.1 376.7 374.5 384.5 C373.9 392.3 373.5 405.4 373.3 409.6 Q392.1 414.3 411.0 409.0 C411.2 404.9 412.1 392.2 412.0 384.5 C411.9 376.8 410.9 369.1 410.5 363.0 C410.1 356.9 410.1 353.8 409.5 348.0 C408.9 342.2 407.5 331.4 407.1 328.1Z" fill="url(#cg)"/>
<path d="M385.4 328.1 C384.6 331.4 381.9 342.2 380.5 348.0 C379.1 353.8 378.0 356.9 377.0 363.0 C376.0 369.1 375.1 376.7 374.5 384.5 C373.9 392.3 373.5 405.4 373.3 409.6 Q392.1 414.3 411.0 409.0 C411.2 404.9 412.1 392.2 412.0 384.5 C411.9 376.8 410.9 369.1 410.5 363.0 C410.1 356.9 410.1 353.8 409.5 348.0 C408.9 342.2 407.5 331.4 407.1 328.1Z" fill="url(#cshade)"/>
<path d="M388.7 328.1 C388.2 331.4 386.9 342.2 385.7 348.0 C384.6 353.8 382.9 356.9 381.8 363.0 C380.7 369.1 379.5 376.7 379.1 384.5 C378.7 392.3 379.4 405.4 379.5 409.6" fill="none" stroke="#2e281f" stroke-opacity="0.51" stroke-width="1.0"/>
<path d="M387.1 328.1 C386.4 331.4 384.1 342.2 382.8 348.0 C381.6 353.8 380.6 356.9 379.7 363.0 C378.8 369.1 378.1 376.7 377.5 384.5 C376.9 392.3 376.5 405.4 376.3 409.6" fill="none" stroke="#8c7f6a" stroke-opacity="0.45" stroke-width="1.6"/>
<path d="M393.5 328.1 C393.1 331.4 392.0 342.2 391.0 348.0 C390.1 353.8 388.4 356.9 387.8 363.0 C387.2 369.1 387.4 376.7 387.4 384.5 C387.4 392.3 387.6 405.4 387.6 409.6" fill="none" stroke="#2e281f" stroke-opacity="0.68" stroke-width="1.0"/>
<path d="M391.5 328.1 C391.0 331.4 389.5 342.2 388.6 348.0 C387.8 353.8 387.0 356.9 386.4 363.0 C385.8 369.1 385.4 376.7 385.0 384.5 C384.6 392.3 384.0 405.4 383.9 409.6" fill="none" stroke="#8c7f6a" stroke-opacity="0.45" stroke-width="1.6"/>
<path d="M397.9 328.1 C397.6 331.4 396.5 342.2 396.0 348.0 C395.4 353.8 394.7 356.9 394.6 363.0 C394.6 369.1 395.9 376.7 395.9 384.5 C396.0 392.3 394.9 405.4 394.7 409.6" fill="none" stroke="#2e281f" stroke-opacity="0.85" stroke-width="1.0"/>
<path d="M395.8 328.1 C395.6 331.4 394.9 342.2 394.4 348.0 C394.0 353.8 393.4 356.9 393.1 363.0 C392.8 369.1 392.8 376.7 392.5 384.5 C392.2 392.3 391.6 405.4 391.4 409.6" fill="none" stroke="#8c7f6a" stroke-opacity="0.45" stroke-width="1.6"/>
<path d="M401.8 328.1 C401.7 331.4 401.3 342.2 401.4 348.0 C401.5 353.8 401.9 356.9 402.2 363.0 C402.6 369.1 403.9 376.7 403.7 384.5 C403.5 392.3 401.6 405.4 401.2 409.6" fill="none" stroke="#2e281f" stroke-opacity="0.51" stroke-width="1.0"/>
<path d="M400.2 328.1 C400.2 331.4 400.3 342.2 400.2 348.0 C400.2 353.8 399.8 356.9 399.8 363.0 C399.7 369.1 400.1 376.7 400.0 384.5 C399.9 392.3 399.1 405.4 398.9 409.6" fill="none" stroke="#8c7f6a" stroke-opacity="0.45" stroke-width="1.6"/>
<path d="M407.1 328.1 C407.5 331.4 408.9 342.2 409.5 348.0 C410.1 353.8 410.1 356.9 410.5 363.0 C410.9 369.1 411.9 376.7 412.0 384.5 C412.1 392.3 411.2 405.4 411.0 409.6" fill="none" stroke="#5a4f41" stroke-opacity="0.6" stroke-width="0.8"/>
<rect x="385.4" y="321.3" width="21.7" height="6.8" rx="1" fill="#7f725e" stroke="#4f4538" stroke-width="0.6"/>
<path d="M526.7 197.5 C527.1 203.4 527.4 221.1 529.0 233.0 C530.6 244.9 534.3 259.5 536.3 269.0 C538.2 278.5 539.3 282.9 540.7 290.0 C542.1 297.1 544.0 308.2 544.7 311.9 L558.5 311.9 C559.2 308.2 561.9 297.1 562.6 290.0 C563.3 282.9 563.1 278.5 562.8 269.0 C562.5 259.5 561.9 244.9 560.9 233.0 C559.9 221.1 557.5 203.4 556.8 197.5Z" fill="url(#cg)"/>
<path d="M526.7 197.5 C527.1 203.4 527.4 221.1 529.0 233.0 C530.6 244.9 534.3 259.5 536.3 269.0 C538.2 278.5 539.3 282.9 540.7 290.0 C542.1 297.1 544.0 308.2 544.7 311.9 L558.5 311.9 C559.2 308.2 561.9 297.1 562.6 290.0 C563.3 282.9 563.1 278.5 562.8 269.0 C562.5 259.5 561.9 244.9 560.9 233.0 C559.9 221.1 557.5 203.4 556.8 197.5Z" fill="url(#cshade)"/>
<path d="M534.2 197.5 C534.8 203.4 536.5 221.1 537.9 233.0 C539.3 244.9 541.4 259.5 542.7 269.0 C544.0 278.5 544.6 282.9 545.6 290.0 C546.5 297.1 547.9 308.2 548.4 311.9" fill="none" stroke="#2e281f" stroke-opacity="0.18" stroke-width="1.3"/>
<path d="M532.1 197.5 C532.6 203.4 533.2 221.1 534.7 233.0 C536.2 244.9 539.4 259.5 541.1 269.0 C542.7 278.5 543.6 282.9 544.6 290.0 C545.7 297.1 546.8 308.2 547.2 311.9" fill="none" stroke="#8c7f6a" stroke-opacity="0.45" stroke-width="1.6"/>
<path d="M542.5 197.5 C543.0 203.4 544.3 221.1 545.4 233.0 C546.4 244.9 547.8 259.5 548.8 269.0 C549.8 278.5 551.0 282.9 551.5 290.0 C552.1 297.1 551.9 308.2 552.0 311.9" fill="none" stroke="#2e281f" stroke-opacity="0.24" stroke-width="1.3"/>
<path d="M539.6 197.5 C540.2 203.4 541.4 221.1 542.7 233.0 C544.1 244.9 546.5 259.5 547.7 269.0 C548.9 278.5 549.6 282.9 550.1 290.0 C550.6 297.1 550.5 308.2 550.6 311.9" fill="none" stroke="#8c7f6a" stroke-opacity="0.45" stroke-width="1.6"/>
<path d="M550.1 197.5 C550.5 203.4 551.5 221.1 552.4 233.0 C553.3 244.9 554.7 259.5 555.6 269.0 C556.4 278.5 557.6 282.9 557.6 290.0 C557.6 297.1 555.7 308.2 555.3 311.9" fill="none" stroke="#2e281f" stroke-opacity="0.30" stroke-width="1.3"/>
<path d="M547.2 197.5 C547.8 203.4 549.5 221.1 550.7 233.0 C551.9 244.9 553.5 259.5 554.3 269.0 C555.1 278.5 555.6 282.9 555.6 290.0 C555.6 297.1 554.3 308.2 554.1 311.9" fill="none" stroke="#8c7f6a" stroke-opacity="0.45" stroke-width="1.6"/>
<path d="M528.2 194.5v3.5 M531.6 194.5v3.5 M535.0 194.5v3.5 M538.4 194.5v3.5 M541.8 194.5v3.5 M545.1 194.5v3.5 M548.5 194.5v3.5 M551.9 194.5v3.5 M555.3 194.5v3.5" stroke="#3a3631" stroke-width="0.9" fill="none"/>
<path d="M526.7 198.1H556.8" stroke="#5d5244" stroke-width="1" stroke-opacity="0.6"/>
<path d="M556.8 197.5 C557.5 203.4 559.9 221.1 560.9 233.0 C561.9 244.9 562.5 259.5 562.8 269.0 C563.1 278.5 563.3 282.9 562.6 290.0 C561.9 297.1 559.2 308.2 558.5 311.9" fill="none" stroke="#5a4f41" stroke-opacity="0.6" stroke-width="0.8"/>
<path d="M544.7 318.8 C544.2 322.7 543.1 334.6 541.8 342.0 C540.4 349.4 538.0 355.3 536.6 363.0 C535.2 370.7 533.9 382.9 533.4 388.0 C532.9 393.1 533.4 392.6 533.4 393.5 Q546.0 395.1 558.6 393.5 C558.8 392.6 559.6 393.1 559.8 388.0 C560.0 382.9 560.0 370.7 560.0 363.0 C560.0 355.3 560.1 349.4 559.7 342.0 C559.3 334.6 558.0 322.7 557.6 318.8Z" fill="url(#cg)"/>
<path d="M544.7 318.8 C544.2 322.7 543.1 334.6 541.8 342.0 C540.4 349.4 538.0 355.3 536.6 363.0 C535.2 370.7 533.9 382.9 533.4 388.0 C532.9 393.1 533.4 392.6 533.4 393.5 Q546.0 395.1 558.6 393.5 C558.8 392.6 559.6 393.1 559.8 388.0 C560.0 382.9 560.0 370.7 560.0 363.0 C560.0 355.3 560.1 349.4 559.7 342.0 C559.3 334.6 558.0 322.7 557.6 318.8Z" fill="url(#cshade)"/>
<path d="M547.9 318.8 C547.7 322.7 547.7 334.6 546.8 342.0 C545.9 349.4 543.5 355.3 542.3 363.0 C541.0 370.7 539.6 382.9 539.3 388.0 C538.9 393.1 539.9 392.6 540.1 393.5" fill="none" stroke="#2e281f" stroke-opacity="0.51" stroke-width="1.0"/>
<path d="M547.0 318.8 C546.7 322.7 546.1 334.6 545.0 342.0 C544.0 349.4 542.0 355.3 540.8 363.0 C539.7 370.7 538.6 382.9 538.2 388.0 C537.7 393.1 538.0 392.6 537.9 393.5" fill="none" stroke="#8c7f6a" stroke-opacity="0.45" stroke-width="1.6"/>
<path d="M551.5 318.8 C551.4 322.7 551.6 334.6 551.0 342.0 C550.3 349.4 548.4 355.3 547.6 363.0 C546.9 370.7 546.6 382.9 546.5 388.0 C546.3 393.1 546.7 392.6 546.8 393.5" fill="none" stroke="#2e281f" stroke-opacity="0.68" stroke-width="1.0"/>
<path d="M550.2 318.8 C550.1 322.7 550.1 334.6 549.5 342.0 C548.9 349.4 547.5 355.3 546.7 363.0 C545.9 370.7 545.2 382.9 544.8 388.0 C544.3 393.1 544.3 392.6 544.2 393.5" fill="none" stroke="#8c7f6a" stroke-opacity="0.45" stroke-width="1.6"/>
<path d="M554.7 318.8 C554.8 322.7 555.1 334.6 554.9 342.0 C554.8 349.4 553.8 355.3 553.6 363.0 C553.4 370.7 553.9 382.9 553.8 388.0 C553.6 393.1 552.9 392.6 552.7 393.5" fill="none" stroke="#2e281f" stroke-opacity="0.85" stroke-width="1.0"/>
<path d="M553.5 318.8 C553.6 322.7 554.1 334.6 554.0 342.0 C553.8 349.4 552.9 355.3 552.5 363.0 C552.1 370.7 551.7 382.9 551.4 388.0 C551.0 393.1 550.7 392.6 550.5 393.5" fill="none" stroke="#8c7f6a" stroke-opacity="0.45" stroke-width="1.6"/>
<path d="M557.6 318.8 C558.0 322.7 559.3 334.6 559.7 342.0 C560.1 349.4 560.0 355.3 560.0 363.0 C560.0 370.7 560.0 382.9 559.8 388.0 C559.6 393.1 558.8 392.6 558.6 393.5" fill="none" stroke="#5a4f41" stroke-opacity="0.6" stroke-width="0.8"/>
<rect x="544.7" y="311.9" width="13.8" height="6.9" rx="1" fill="#7f725e" stroke="#4f4538" stroke-width="0.6"/>
</g>
</g>

<!-- feet -->
<rect x="186" y="431.5" width="6" height="3" rx="1" fill="#6a6a6a"/>
<rect x="554" y="393" width="3.6" height="2.6" rx="0.8" fill="#555"/>
<!-- callouts -->
<g stroke="#10125e" fill="none" stroke-width="1.4">
<path d="M149.5 83 V156"/>
<path d="M415.4 110.5 H331.5 V125"/>
<path d="M190 382 H311.7 V420.4"/>
</g>
<g stroke="#10125e" stroke-width="2" fill="#fff">
<circle cx="151.2" cy="161.2" r="4.5"/>
<circle cx="332" cy="130.3" r="4.5"/>
<circle cx="184.7" cy="381.6" r="4.5"/>
</g>

<!-- ELIOR chair -->
<g id="chair">
<defs>
<linearGradient id="backg" x1="0" y1="0" x2="0" y2="1"><stop offset="0" stop-color="#f85252"/><stop offset="0.5" stop-color="#f03e3e"/><stop offset="1" stop-color="#e63030"/></linearGradient>
<linearGradient id="seatg" x1="0" y1="0" x2="0" y2="1"><stop offset="0" stop-color="#f54e4e"/><stop offset="0.6" stop-color="#ec3b3b"/><stop offset="1" stop-color="#c82222"/></linearGradient>
<linearGradient id="metal" x1="0" y1="0" x2="1" y2="0"><stop offset="0" stop-color="#777"/><stop offset="0.5" stop-color="#d0d0d0"/><stop offset="1" stop-color="#888"/></linearGradient>
</defs>
<ellipse cx="511.5" cy="79" rx="27" ry="1.9" fill="#151515"/>
<path d="M494.8 18.9 L496.6 18.9 L500.3 50.3 L498.5 50.3 Z" fill="#9c9c9c"/>
<path d="M531.6 18.9 L533.4 18.9 L531.1 50.3 L529.3 50.3 Z" fill="#9c9c9c"/>
<path d="M498.7 22.5 Q498.7 19.2 502 18.6 Q514 15.2 528 18.6 Q531.2 19.2 531.2 22.5 L529.6 45.7 L500.3 45.7 Z" fill="url(#backg)"/>
<g stroke="#a8a8a8" stroke-width="1.8" stroke-linecap="butt">
<path d="M495.2 60 L492.8 77.5 M531.8 60 L535.3 77.8 M498.6 61 L498.2 75 M528.6 61 L529.4 75"/>
</g>
<g stroke="#222" stroke-width="1.9"><path d="M492.9 76.3 L492.7 78.2 M535.1 76.6 L535.4 78.4 M498.2 73.8 L498.2 75.5 M529.3 73.8 L529.4 75.5"/></g>
<ellipse cx="514.4" cy="55.6" rx="23.4" ry="5.4" fill="url(#seatg)"/>
<ellipse cx="514.4" cy="54.2" rx="20.5" ry="3.3" fill="#f24a4a" opacity="0.6"/>
</g>
<!-- ELIOR text -->
<g fill="#111">
<path d="M555.5 33.5 H568.9 V37.6 H560.1 V47.2 H566.4 V51 H560.1 V59.5 H568.9 V63.7 H555.5 Z"/>
<path d="M572.2 33.5 H576.4 V59.5 H584.4 V63.7 H572.2 Z"/>
<rect x="588.2" y="33.5" width="4.2" height="30.2"/>
<path fill-rule="evenodd" d="M604 33.5 C608.6 33.5 611.3 36.3 611.3 40.6 V56.6 C611.3 60.9 608.6 63.7 604 63.7 C599.5 63.7 596.8 60.9 596.8 56.6 V40.6 C596.8 36.3 599.5 33.5 604 33.5 Z M604 37.8 C602.3 37.8 601.3 38.8 601.3 40.6 V56.6 C601.3 58.4 602.3 59.4 604 59.4 C605.8 59.4 606.8 58.4 606.8 56.6 V40.6 C606.8 38.8 605.8 37.8 604 37.8 Z"/>
<path fill-rule="evenodd" d="M616 33.5 H623.6 C627.6 33.5 629.8 36 629.8 41.6 C629.8 46.3 628.6 49.1 626.4 50.4 L631 63.7 H626.3 L622.2 51.5 H620.3 V63.7 H616 Z M620.3 37.8 V47.3 H623 C624.9 47.3 625.6 46 625.6 42.5 C625.6 39 624.9 37.8 623 37.8 Z"/>
</g>

<!-- 10 lat badge -->
<rect x="8.7" y="422.3" width="70.2" height="43.1" rx="4" fill="#07013a"/>
<!-- Edinos -->
<rect x="568.9" y="398.5" width="70" height="67" fill="#ad0360"/>
<path d="M573.6 416.2 L580.7 416.2 L603.5 448 L626.3 416.2 L632.6 416.2 L603.5 454 Z" fill="#a4a4a4"/>
<circle cx="603.5" cy="430.8" r="8.6" fill="#a6a6a6"/>
</svg>

<div id="title"><span id="tt" style="transform:scaleX(1.1725)">Stwórz magiczny kąt w ogrodzie - altana Grotto!</span></div>

<div class="t" id="tx1" style="left:22.6px;top:30.9px">
<span id="l1" style="transform:scaleX(1.0626)">Wysokiej jakości tkanina Intex 7V, wyróżniająca się</span><br>
<span id="l2" style="transform:scaleX(1.0359)">wysoką odpornością na warunki atmosferyczne,</span><br>
<span id="l3" style="transform:scaleX(1.0494)">zwłaszcza promienie UV.</span><br>
</div>
<div class="t" id="tx2" style="left:418.8px;top:88.9px">
<span id="l4" style="transform:scaleX(1.0416)">Podwójny dach zapewniający</span><br>
<span id="l5" style="transform:scaleX(1.0447)">prawidłową cyrkulację</span><br>
<span id="l6" style="transform:scaleX(1.0625)">powietrza.</span><br>
</div>
<div class="t" id="tx3" style="left:223.5px;top:417.8px">
<span id="l7" style="transform:scaleX(1.0458)">Eleganckie, regulowane zasłony, które</span><br>
<span id="l8" style="transform:scaleX(1.0437)">można łaczyć za pomocą zamków</span><br>
<span id="l9" style="transform:scaleX(1.0345)">błyskawicznych.</span><br>
</div>

<div id="b10" style="position:absolute;left:14.1px;top:424.3px;color:#f52222;font-weight:normal;-webkit-text-stroke:1.1px #f52222;font-size:21.5px;line-height:24px;white-space:nowrap"><span style="display:inline-block;transform-origin:0 0;will-change:transform;transform:scaleX(1.06)">10 lat</span></div>
<div id="bg" style="position:absolute;left:9.9px;top:447px;color:#fff;font-weight:normal;-webkit-text-stroke:0.45px #fff;font-size:12.3px;line-height:15px;white-space:nowrap"><span style="display:inline-block;transform-origin:0 0;will-change:transform;transform:scaleX(1.258)">Gwarancji</span></div>
<div id="ed" style="position:absolute;left:578.3px;top:399.9px;color:#fff;font-weight:normal;-webkit-text-stroke:0.55px #fff;font-size:16px;line-height:18px;white-space:nowrap"><span style="display:inline-block;transform-origin:0 0;will-change:transform;transform:scaleX(1.03)">Edinos</span></div>
<div id="dsi" style="position:absolute;left:573.3px;top:442.2px;color:#a4a4a4;-webkit-text-stroke:0.35px #a4a4a4;font-size:11.3px;line-height:13px;white-space:nowrap"><span style="display:inline-block;transform-origin:0 0;will-change:transform;transform:scaleX(1.22)">DSI</span></div>
<div id="n804" style="position:absolute;left:612px;top:442.2px;color:#a4a4a4;-webkit-text-stroke:0.35px #a4a4a4;font-size:11.3px;line-height:13px;white-space:nowrap"><span style="display:inline-block;transform-origin:0 0;will-change:transform;transform:scaleX(1.18)">804</span></div>
<div id="std" style="position:absolute;left:575.8px;top:452px;color:#fff;font-weight:bold;font-size:11px;line-height:13px;white-space:nowrap"><span style="display:inline-block;transform-origin:0 0;will-change:transform;transform:scaleX(1.083)">Standards</span></div>
</body></html>
